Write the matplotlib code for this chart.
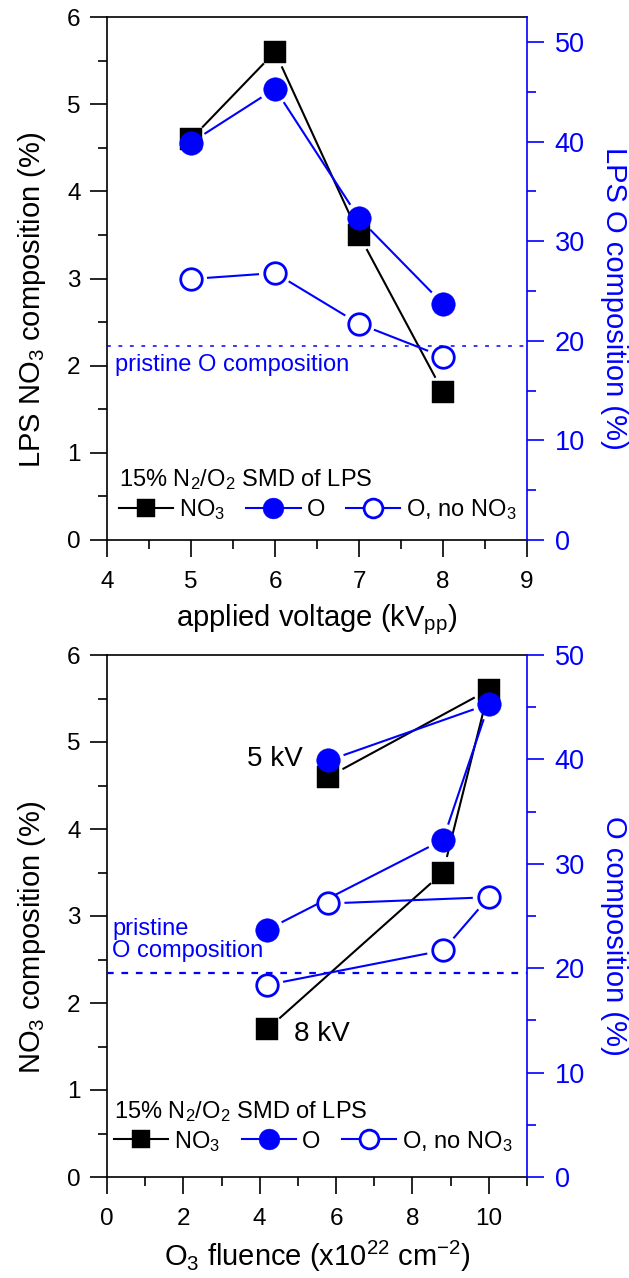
import numpy as np
import matplotlib
matplotlib.use("Agg")
import matplotlib.pyplot as plt
from matplotlib.lines import Line2D
from matplotlib.ticker import MultipleLocator

# ---- data -------------------------------------------------------------
voltage = [5, 6, 7, 8]                    # applied voltage (kVpp)
fluence = [5.8, 10.0, 8.8, 4.2]           # O3 fluence (x1e22 cm^-2) for each voltage
no3 = [4.6, 5.6, 3.5, 1.7]                # NO3 composition (%)
o_total = [39.9, 45.3, 32.3, 23.7]        # O composition (%)
o_no_no3 = [26.2, 26.8, 21.7, 18.4]       # O composition excluding NO3 (%)
pristine_o = 19.5                         # pristine O composition (%)

BLUE = "#0000FF"

plt.rcParams["font.family"] = ["Liberation Sans", "DejaVu Sans"]
plt.rcParams["mathtext.fontset"] = "custom"
plt.rcParams["mathtext.rm"] = "Liberation Sans"
plt.rcParams["mathtext.it"] = "Liberation Sans:italic"
plt.rcParams["mathtext.bf"] = "Liberation Sans:bold"

W, H = 629, 1278
DPI = 100
fig = plt.figure(figsize=(W / DPI, H / DPI), dpi=DPI)

TICK_FS = 17.5
RTICK_FS = 19.5
LABEL_FS = 21
TEXT_FS = 17
GAP = 16  # px between line ends and marker centres
LW = 1.5
MS_SQ, MS_CI, MS_OC = 15.5, 17, 15.5


def px_axes(left, top, right, bottom):
    return fig.add_axes([left / W, 1 - bottom / H, (right - left) / W, (bottom - top) / H])


def gapped(ax, xs, ys, color):
    pts = ax.transData.transform(np.column_stack([xs, ys]))
    inv = ax.transData.inverted()
    for p0, p1 in zip(pts[:-1], pts[1:]):
        d = p1 - p0
        u = d / np.hypot(*d)
        seg = inv.transform(np.array([p0 + u * GAP, p1 - u * GAP]))
        ax.plot(seg[:, 0], seg[:, 1], color=color, lw=LW, solid_capstyle="butt", zorder=2)


def style(ax, ax2, xmaj, xmin, ymax_r):
    for s in ["top", "bottom", "left"]:
        ax.spines[s].set_linewidth(1.2)
    ax.spines["right"].set_visible(False)
    for s in ["top", "bottom", "left"]:
        ax2.spines[s].set_visible(False)
    ax2.spines["right"].set_color(BLUE)
    ax2.spines["right"].set_linewidth(1.2)
    ax.set_ylim(0, 6)
    ax2.set_ylim(0, ymax_r)
    ax.yaxis.set_major_locator(MultipleLocator(1))
    ax.yaxis.set_minor_locator(MultipleLocator(0.5))
    ax2.yaxis.set_major_locator(MultipleLocator(10))
    ax2.yaxis.set_minor_locator(MultipleLocator(5))
    ax.xaxis.set_major_locator(MultipleLocator(xmaj))
    ax.xaxis.set_minor_locator(MultipleLocator(xmin))
    ax.tick_params(axis="both", which="major", direction="out", length=12, width=1.2,
                   labelsize=TICK_FS)
    ax.tick_params(axis="x", which="major", pad=10)
    ax.tick_params(axis="y", which="major", pad=7)
    ax.tick_params(axis="both", which="minor", direction="out", length=6.5, width=1.2)
    ax.tick_params(axis="x", top=False)
    ax2.tick_params(axis="x", which="both", top=True, bottom=False, labeltop=False,
                    labelbottom=False, direction="in", width=1.2)
    ax2.tick_params(axis="x", which="major", length=12)
    ax2.tick_params(axis="x", which="minor", length=6.5)
    ax2.tick_params(axis="y", which="both", colors=BLUE, direction="out", width=1.2)
    ax2.tick_params(axis="y", which="major", length=12, labelsize=RTICK_FS, pad=8)
    ax2.tick_params(axis="y", which="minor", length=6.5)


def labels(ax, ax2, xlabel, ylabel, rlabel):
    ax.set_xlabel(xlabel, fontsize=LABEL_FS, labelpad=7)
    ax.set_ylabel(ylabel, fontsize=LABEL_FS, rotation=90, ha="center", va="center")
    ax.yaxis.set_label_coords(-0.178, 0.46)
    ax2.set_ylabel(rlabel, fontsize=LABEL_FS, color=BLUE, rotation=270,
                   ha="center", va="center")
    ax2.yaxis.set_label_coords(1.207, 0.462)


def draw_series(ax, ax2, x):
    gapped(ax, x, no3, "black")
    ax.plot(x, no3, ls="none", marker="s", ms=MS_SQ, mfc="black", mec="black", mew=0.3, zorder=3)
    gapped(ax2, x, o_total, BLUE)
    ax2.plot(x, o_total, ls="none", marker="o", ms=MS_CI, mfc=BLUE, mec=BLUE, mew=0.3, zorder=3)
    gapped(ax2, x, o_no_no3, BLUE)
    ax2.plot(x, o_no_no3, ls="none", marker="o", ms=MS_OC, mfc="white", mec=BLUE, mew=2.0, zorder=3)


def legend(ax2, anchor):
    handles = [
        Line2D([], [], color="black", lw=LW, marker="s", ms=13.5, mfc="black", mec="black", mew=0.3),
        Line2D([], [], color=BLUE, lw=LW, marker="o", ms=15, mfc=BLUE, mec=BLUE, mew=0.3),
        Line2D([], [], color=BLUE, lw=LW, marker="o", ms=13.5, mfc="white", mec=BLUE, mew=2.0),
    ]
    names = ["NO$_3$", "O", "O, no NO$_3$"]
    leg = ax2.legend(handles, names, ncol=3, loc="lower left", bbox_to_anchor=anchor,
                     frameon=False, fontsize=TEXT_FS, title="15% N$_2$/O$_2$ SMD of LPS",
                     title_fontsize=TEXT_FS, handlelength=2.3, handletextpad=0.25,
                     columnspacing=0.9, borderaxespad=0, borderpad=0, labelspacing=0.2)
    leg._legend_box.align = "left"


# ---- top panel: vs applied voltage ----------------------------------
ax = px_axes(107, 17, 527, 540)
ax2 = ax.twinx()
ax.set_xlim(4, 9)
style(ax, ax2, 1, 0.5, 52.5)
draw_series(ax, ax2, voltage)
ax2.axhline(pristine_o, color=BLUE, lw=1.1, ls=(0, (2.5, 5)), zorder=1)
ax2.text(4.09, 17.6, "pristine O composition", color=BLUE, fontsize=TEXT_FS,
         ha="left", va="center")
labels(ax, ax2, "applied voltage (kV$_{\\mathrm{pp}}$)", "LPS NO$_3$ composition (%)",
       "LPS O composition (%)")
legend(ax2, (0.028, 0.035))

# ---- bottom panel: vs O3 fluence ------------------------------------
bx = px_axes(107, 655, 527, 1177)
bx2 = bx.twinx()
bx.set_xlim(0, 11)
style(bx, bx2, 2, 1, 50)
draw_series(bx, bx2, fluence)
bx2.axhline(pristine_o, color=BLUE, lw=1.6, ls=(0, (3, 3.5)), zorder=1)
bx2.text(0.13, 22.7, "pristine\nO composition", color=BLUE, fontsize=TEXT_FS,
         ha="left", va="center", linespacing=1.0)
bx.text(fluence[0] - 0.68, 4.8, "5 kV", fontsize=20, ha="right", va="center")
bx.text(fluence[3] + 0.7, 1.64, "8 kV", fontsize=20, ha="left", va="center")
labels(bx, bx2, "O$_3$ fluence (x10$^{22}$ cm$^{-2}$)", "NO$_3$ composition (%)",
       "O composition (%)")
legend(bx2, (0.017, 0.045))

fig.savefig("out.png", dpi=DPI)
